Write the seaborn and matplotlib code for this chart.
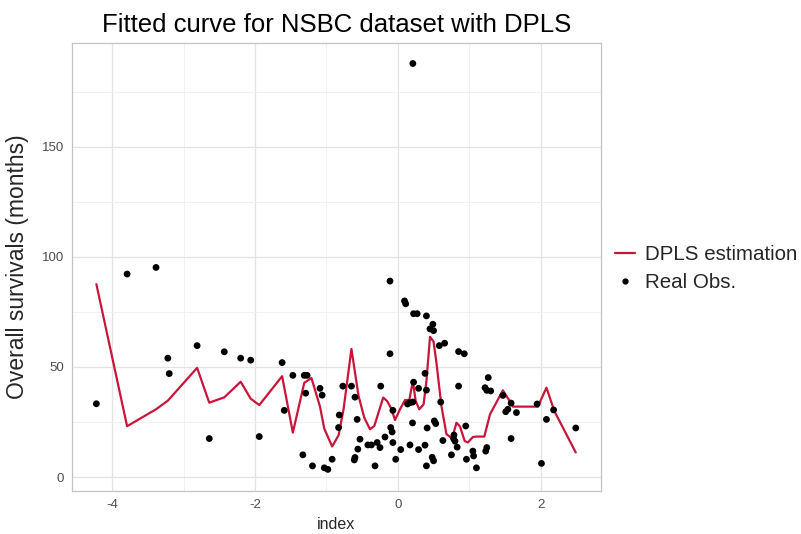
import matplotlib
matplotlib.use("Agg")
import matplotlib.pyplot as plt
import seaborn as sns
import pandas as pd
from matplotlib.lines import Line2D
from matplotlib.ticker import MultipleLocator

# fitted curve (DPLS estimation)
fit_x = [-4.22, -3.79, -3.385, -3.22, -2.81, -2.64, -2.43, -2.20, -2.06, -1.94,
         -1.62, -1.47, -1.31, -1.21, -1.09, -1.03, -0.92, -0.83, -0.76, -0.65,
         -0.55, -0.47, -0.39, -0.33, -0.205, -0.15, -0.09, -0.04, 0.03, 0.10,
         0.16, 0.21, 0.25, 0.30, 0.36, 0.40, 0.45, 0.50, 0.54, 0.61,
         0.68, 0.76, 0.82, 0.87, 0.935, 0.98, 1.05, 1.10, 1.21, 1.29,
         1.47, 1.58, 1.61, 1.96, 2.08, 2.19, 2.49]
fit_y = [87.6, 23.1, 30.8, 34.7, 49.6, 33.8, 36.2, 43.3, 35.6, 32.7,
         45.8, 20.2, 42.8, 45.0, 32.0, 22.0, 13.9, 19.0, 30.8, 58.2,
         36.8, 27.0, 21.7, 23.2, 36.1, 34.5, 31.0, 25.9, 30.8, 35.0,
         35.0, 43.6, 34.5, 30.8, 33.0, 43.6, 63.7, 61.5, 51.9, 32.3,
         19.5, 17.5, 24.7, 23.0, 16.4, 15.7, 18.2, 18.4, 18.4, 28.5,
         39.4, 33.8, 32.0, 32.0, 40.6, 30.0, 11.2]

# real observations
obs_x = [-4.22, -3.79, -3.385, -3.22, -3.20, -2.81, -2.64, -2.43, -2.20, -2.06,
         -1.94, -1.62, -1.59, -1.47, -1.31, -1.27, -1.29, -1.33, -1.195, -1.09,
         -1.06, -1.03, -0.98, -0.92, -0.82, -0.83, -0.77, -0.65, -0.60, -0.57,
         -0.53, -0.56, -0.60, -0.61, -0.42, -0.37, -0.29, -0.25, -0.32, -0.24,
         -0.18, -0.10, -0.08, -0.07, -0.07, -0.03, 0.04, -0.11, -0.11, 0.093,
         0.11, 0.22, 0.27, 0.40, 0.49, 0.45, 0.50, 0.58, 0.655, 0.85,
         0.93, 0.135, 0.17, 0.21, 0.205, 0.17, 0.22, 0.29, 0.29, 0.38,
         0.38, 0.40, 0.41, 0.40, 0.48, 0.50, 0.51, 0.53, 0.60, 0.63,
         0.75, 0.785, 0.78, 0.80, 0.83, 0.85, 0.95, 0.96, 1.05, 1.06,
         1.10, 1.23, 1.245, 1.265, 1.22, 1.245, 1.30, 1.47, 1.51, 1.54,
         1.585, 1.66, 1.585, 1.95, 2.01, 2.08, 2.18, 2.49, 0.21]
obs_y = [33.3, 92.2, 95.2, 54.0, 47.0, 59.7, 17.5, 56.9, 54.0, 53.1,
         18.4, 52.0, 30.3, 46.2, 46.2, 46.2, 38.1, 10.1, 5.1, 40.3,
         37.2, 4.2, 3.5, 8.1, 28.2, 22.5, 41.3, 41.3, 36.3, 26.2,
         17.2, 12.7, 8.9, 7.8, 14.6, 14.6, 15.7, 13.4, 5.1, 41.3,
         18.2, 22.5, 20.5, 30.3, 15.7, 8.1, 12.5, 89.0, 56.0, 80.0,
         78.7, 74.2, 74.2, 73.2, 69.4, 67.3, 66.5, 59.7, 60.8, 57.0,
         56.0, 33.2, 33.8, 34.1, 24.6, 14.6, 43.1, 40.3, 12.5, 14.5,
         47.1, 39.5, 22.3, 5.1, 9.0, 7.4, 25.5, 24.3, 34.1, 16.6,
         10.1, 19.1, 17.5, 16.3, 13.6, 41.3, 23.2, 8.1, 11.8, 9.6,
         4.2, 11.8, 13.4, 45.2, 40.6, 39.4, 39.1, 37.1, 29.7, 30.8,
         33.6, 29.3, 17.5, 33.2, 6.2, 26.2, 30.5, 22.3, 187.8]

x_ticks = [-4, -2, 0, 2]
y_ticks = [0, 50, 100, 150]

LINE_COLOR = "#c8163a"


def main():
    sns.set_theme(style="whitegrid")
    plt.rcParams["font.family"] = ["Liberation Sans", "DejaVu Sans"]
    plt.rcParams["axes.unicode_minus"] = False

    fit = pd.DataFrame({"index": fit_x, "value": fit_y})
    obs = pd.DataFrame({"index": obs_x, "value": obs_y})

    fig = plt.figure(figsize=(8.01, 5.34), dpi=100)
    ax = fig.add_axes([0.09, 0.081, 0.66, 0.838])
    ax.set_facecolor("white")

    sns.lineplot(data=fit, x="index", y="value", sort=False, ax=ax,
                 color=LINE_COLOR, linewidth=1.6, zorder=3)
    sns.scatterplot(data=obs, x="index", y="value", ax=ax, color="black",
                    s=24, edgecolor="none", zorder=4)

    ax.set_xlim(-4.56, 2.84)
    ax.set_ylim(-6.2, 197)
    ax.set_xticks(x_ticks)
    ax.set_yticks(y_ticks)
    ax.xaxis.set_minor_locator(MultipleLocator(1))
    ax.yaxis.set_minor_locator(MultipleLocator(25))
    ax.grid(which="major", color="#e3e3e3", linewidth=0.9)
    ax.grid(which="minor", color="#efefef", linewidth=0.6)
    for s in ax.spines.values():
        s.set_color("#c4c4c4")
        s.set_linewidth(0.9)
    ax.tick_params(axis="both", which="major", length=3, width=0.8,
                   color="#c4c4c4", labelsize=9.5, labelcolor="#4d4d4d", pad=3)
    ax.tick_params(which="minor", length=0)

    ax.set_title("Fitted curve for NSBC dataset with DPLS", fontsize=18.5,
                 color="black", pad=8)
    ax.set_xlabel("index", fontsize=11.5, labelpad=4)
    ax.set_ylabel("Overall survivals (months)", fontsize=16.5, labelpad=9)

    handles = [
        Line2D([0], [0], color=LINE_COLOR, linewidth=1.6, label="DPLS estimation"),
        Line2D([0], [0], color="black", marker="o", linestyle="none",
               markersize=3.5, label="Real Obs."),
    ]
    fig.legend(handles=handles, loc="center left", bbox_to_anchor=(0.757, 0.497),
               frameon=False, fontsize=14.8, handlelength=1.0, handletextpad=0.5,
               labelspacing=0.4, borderaxespad=0)

    fig.savefig("out.png", dpi=100)


if __name__ == '__main__':
    main()
